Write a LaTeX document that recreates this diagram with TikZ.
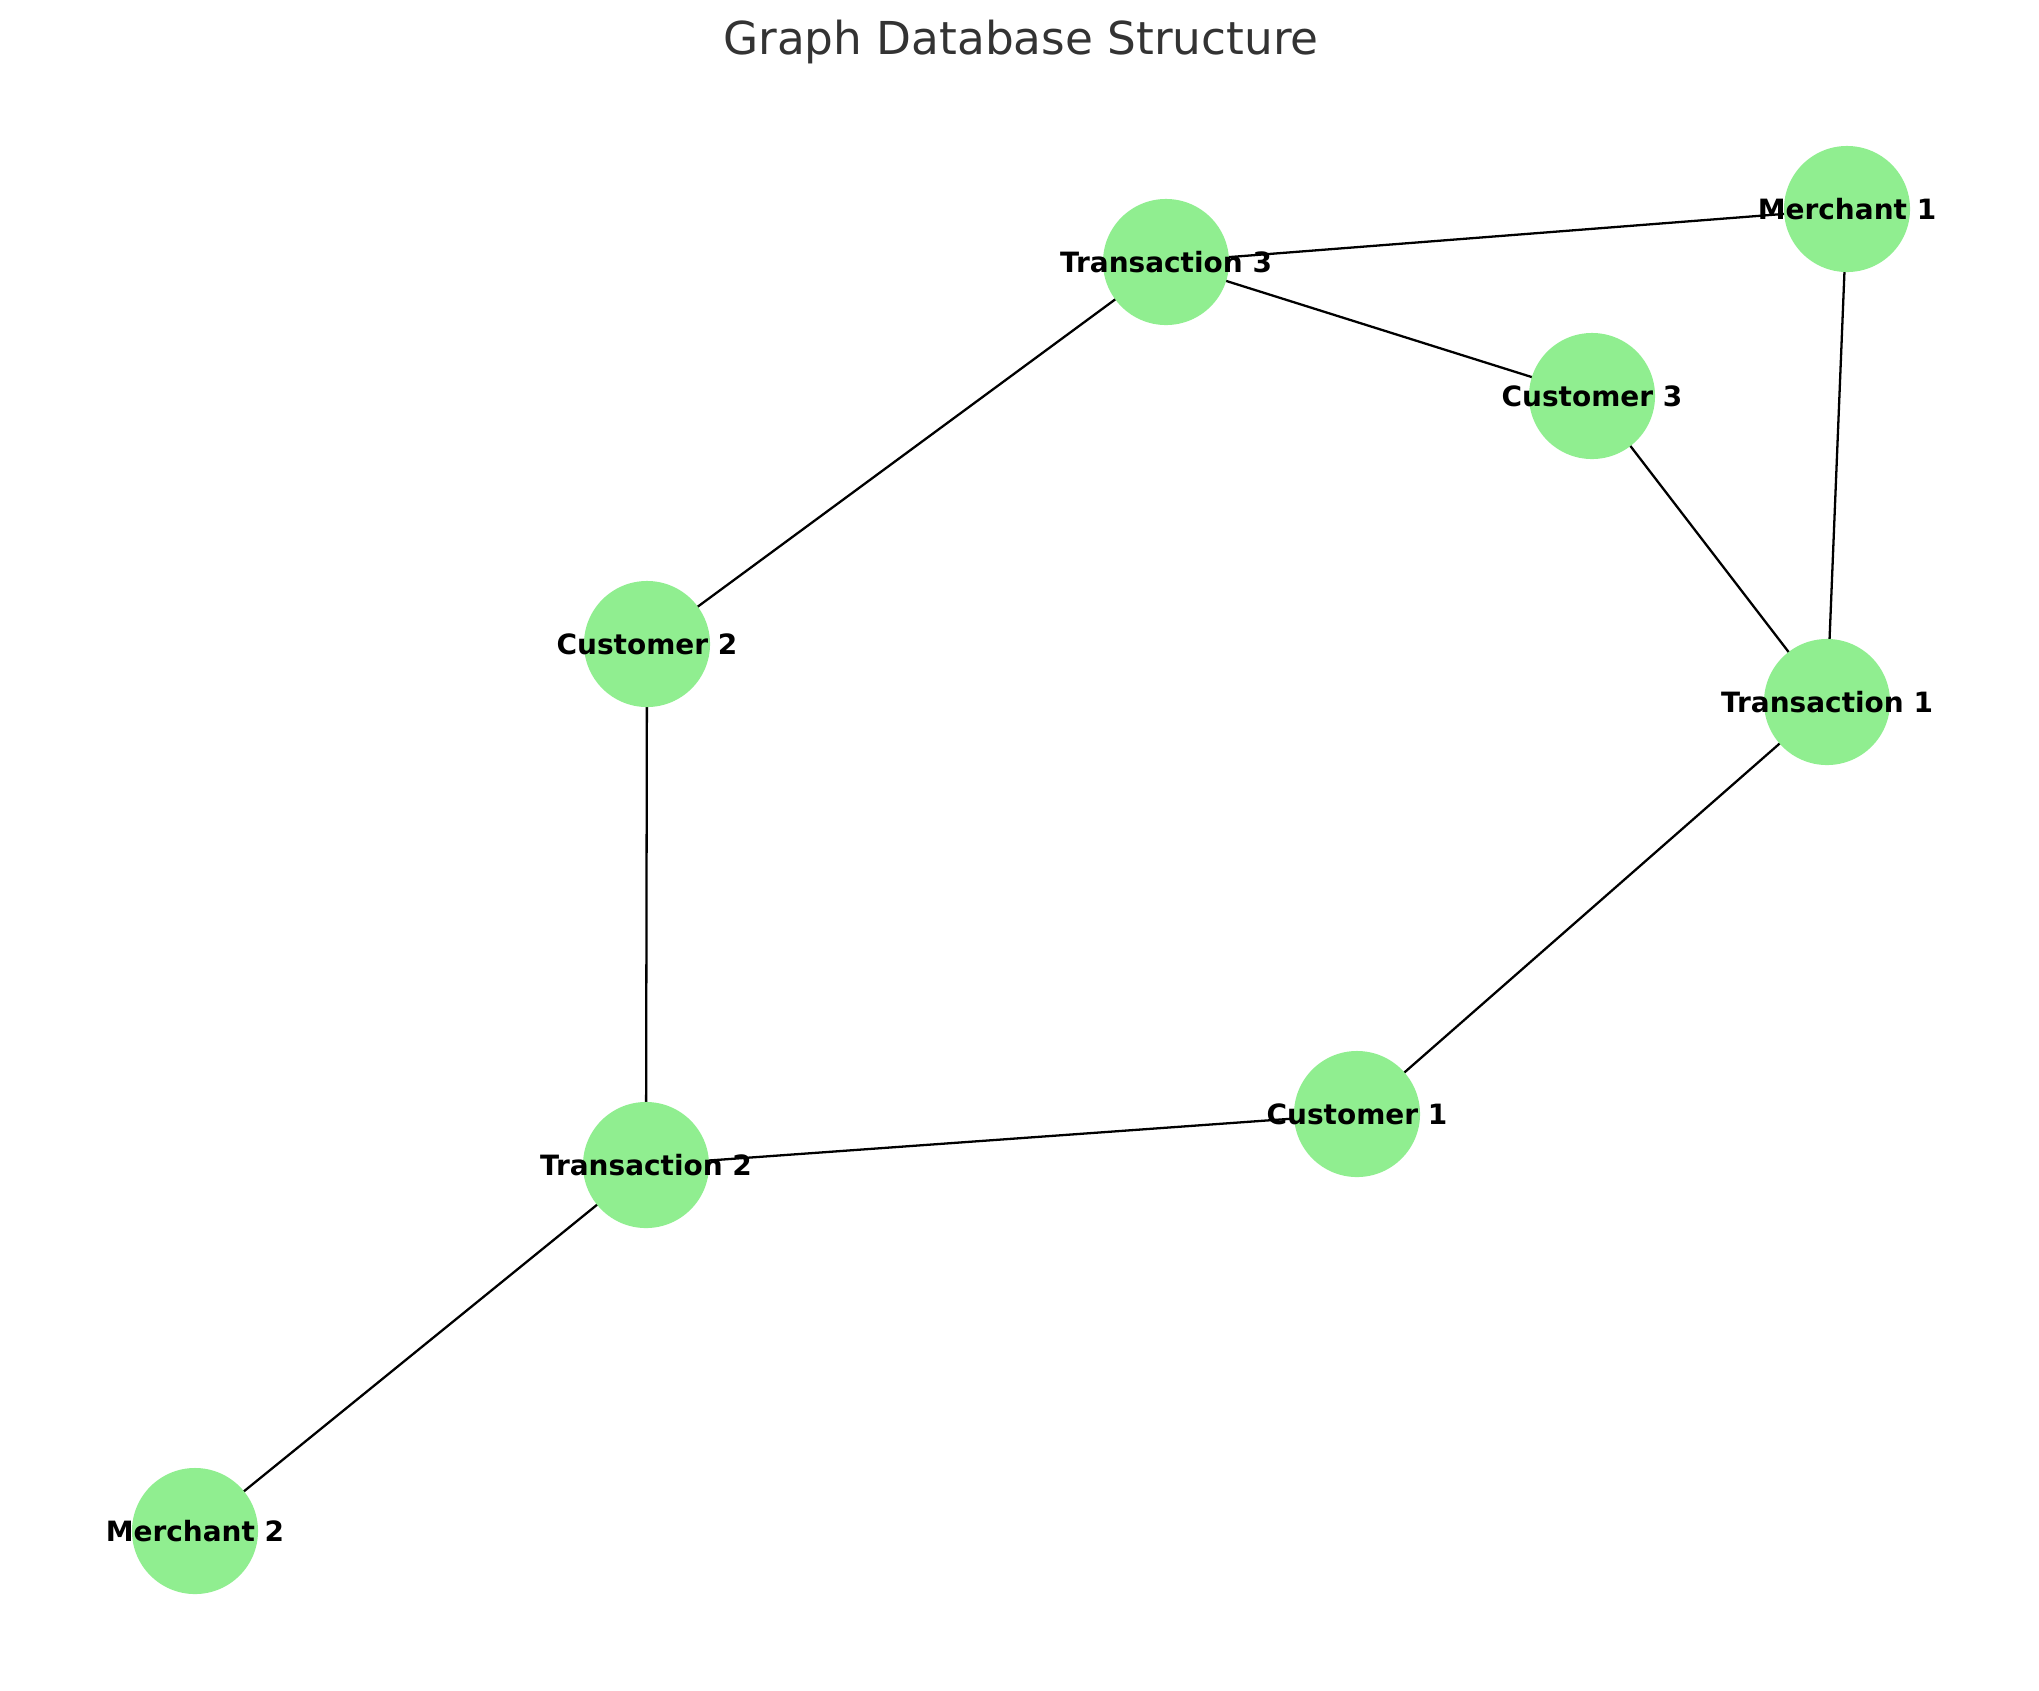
\documentclass[tikz,border=0pt]{standalone}
\usepackage{fontspec}
\setmainfont{DejaVu Sans}
\usetikzlibrary{backgrounds}
\definecolor{nodegreen}{HTML}{90EE90}
\definecolor{titlegray}{HTML}{333333}
\begin{document}
\begin{tikzpicture}[x=0.01cm,y=-0.01cm,
	vertex/.style={circle,fill=nodegreen,minimum size=1.26cm,inner sep=0pt,font=\fontsize{7.95}{9}\selectfont\bfseries},
	edge/.style={line width=0.65pt,black}]
	\useasboundingbox (0,0) rectangle (2039,1690);

	%title
	\node[anchor=base,text=titlegray,font=\fontsize{12.9}{15}\selectfont] (title) at (1021,54) {Graph Database Structure};

	%customers
	\node[vertex] (c1) at (1357,1114) {\makebox[0pt]{Customer 1}};
	\node[vertex] (c2) at (647,644) {\makebox[0pt]{Customer 2}};
	\node[vertex] (c3) at (1592,396) {\makebox[0pt]{Customer 3}};

	%transactions
	\node[vertex] (t1) at (1827,702) {\makebox[0pt]{Transaction 1}};
	\node[vertex] (t2) at (646,1165) {\makebox[0pt]{Transaction 2}};
	\node[vertex] (t3) at (1166,262) {\makebox[0pt]{Transaction 3}};

	%merchants
	\node[vertex] (m1) at (1847,209) {\makebox[0pt]{Merchant 1}};
	\node[vertex] (m2) at (195,1531) {\makebox[0pt]{Merchant 2}};

	%edges
	\begin{scope}[on background layer]
		\draw[edge] (t3.center) -- (m1.center);
		\draw[edge] (t3.center) -- (c3.center);
		\draw[edge] (t3.center) -- (c2.center);
		\draw[edge] (c3.center) -- (t1.center);
		\draw[edge] (m1.center) -- (t1.center);
		\draw[edge] (t1.center) -- (c1.center);
		\draw[edge] (c1.center) -- (t2.center);
		\draw[edge] (c2.center) -- (t2.center);
		\draw[edge] (t2.center) -- (m2.center);
	\end{scope}
\end{tikzpicture}
\end{document}
